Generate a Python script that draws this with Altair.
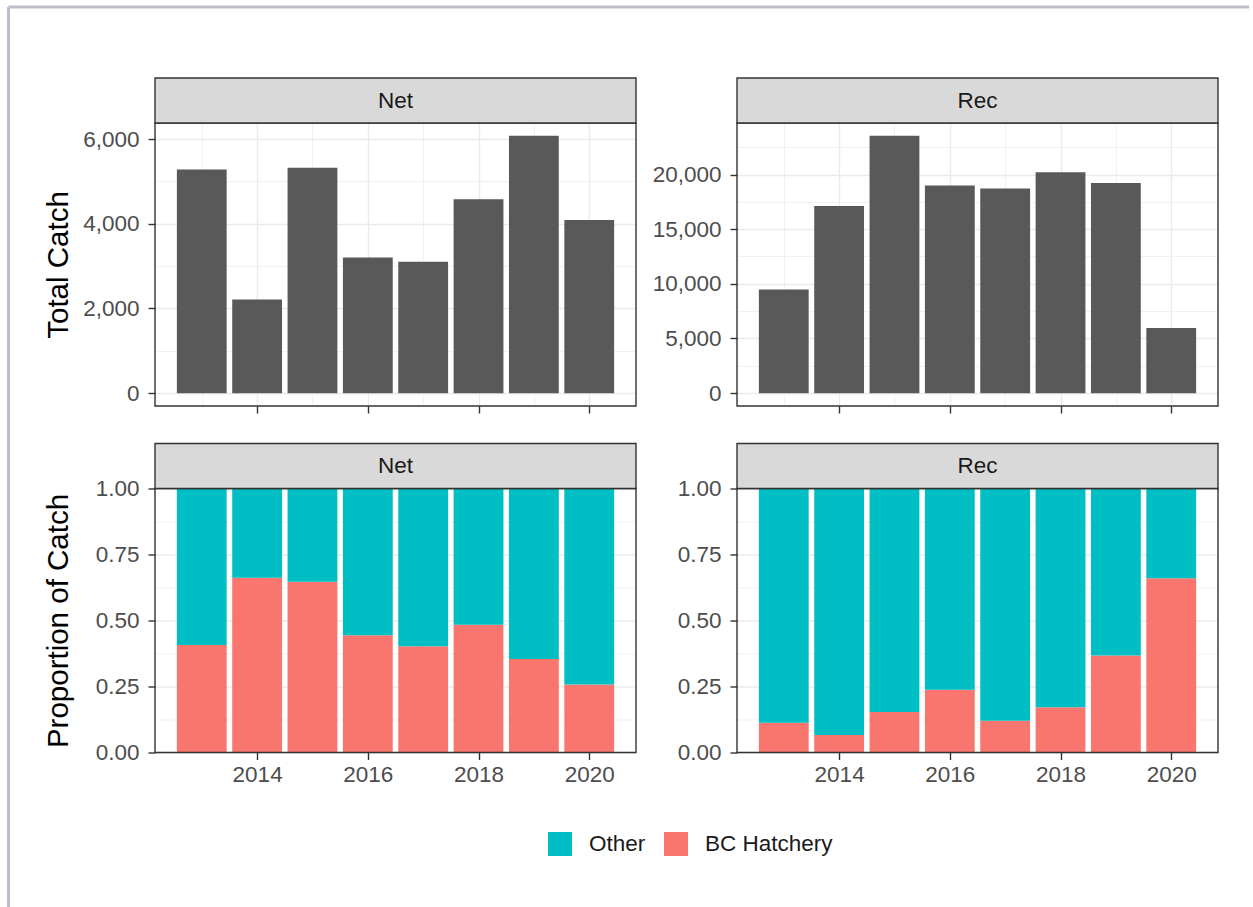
import altair as alt
import pandas as pd

# ---- data -------------------------------------------------------------
years = [2013, 2014, 2015, 2016, 2017, 2018, 2019, 2020]
fisheries = ["Net", "Rec"]
net_total = [5280, 2210, 5320, 3205, 3100, 4580, 6076, 4090]
rec_total = [9470, 17125, 23535, 18990, 18720, 20210, 19230, 5950]
# share of each year's catch that is BC Hatchery fish
net_hatchery = [0.407, 0.662, 0.647, 0.444, 0.402, 0.484, 0.354, 0.258]
rec_hatchery = [0.113, 0.066, 0.153, 0.238, 0.120, 0.171, 0.367, 0.660]
groups = ["Other", "BC Hatchery"]
group_colors = ["#00BFC4", "#F8766D"]

year_ticks = [2014, 2016, 2018, 2020]
net_ticks = [0, 2000, 4000, 6000]
rec_ticks = [0, 5000, 10000, 15000, 20000]
prop_ticks = [0.0, 0.25, 0.5, 0.75, 1.0]

# ---- layout / style ---------------------------------------------------
FONT = "Liberation Sans"
W = 481
H_TOP = 283
H_BOT = 264
STRIP = 45
BAR = 0.9
LINE = "#333333"
GRID = "#EBEBEB"

x_lo = min(years) - BAR / 2
x_hi = max(years) + BAR / 2
x_pad = 0.05 * (x_hi - x_lo)
x_domain = [x_lo - x_pad, x_hi + x_pad]

totals = pd.DataFrame({
    "year": years * 2,
    "fishery": ["Net"] * len(years) + ["Rec"] * len(years),
    "total": net_total + rec_total,
})

rows = []
for fishery, shares in zip(fisheries, [net_hatchery, rec_hatchery]):
    for yr, p in zip(years, shares):
        rows.append({"year": yr, "fishery": fishery, "group": "BC Hatchery", "lo": 0.0, "hi": p})
        rows.append({"year": yr, "fishery": fishery, "group": "Other", "lo": p, "hi": 1.0})
props = pd.DataFrame(rows)


def with_minor(majors, domain):
    """Major breaks plus the half-way minor breaks that fall inside the domain."""
    step = majors[1] - majors[0]
    vals = []
    v = majors[0] - step / 2
    while v <= domain[1]:
        if v >= domain[0]:
            vals.append(v)
        v += step / 2
    return vals


def cond(test, a, b):
    return {"condition": {"test": test, "value": a}, "value": b}


def make_axis(majors, domain, fmt, labels=True, title=None, title_y=None, pad=9):
    test = "indexof(%s, datum.value) >= 0" % str(list(majors))
    kw = dict(
        values=with_minor(majors, domain),
        grid=True,
        gridColor=GRID,
        gridWidth=cond(test, 1.4, 0.7),
        tickOpacity=cond(test, 1, 0),
        tickColor=LINE,
        tickWidth=1.4,
        tickSize=7,
        domain=False,
        labels=labels,
        labelExpr="%s ? %s : ''" % (test, fmt),
        labelFont=FONT,
        labelFontSize=22.5,
        labelColor="#4D4D4D",
        labelPadding=pad,
        labelFlush=False,
        labelOverlap=False,
    )
    if title:
        kw.update(title=title, titleFont=FONT, titleFontSize=29.5, titleFontWeight="normal",
                  titleColor="#000000", titleX=-88, titleY=title_y, titleAlign="center",
                  titleBaseline="alphabetic", titleAngle=270)
    else:
        kw.update(title=None)
    return alt.Axis(**kw)


x_scale = alt.Scale(domain=x_domain, nice=False, zero=False)
one = pd.DataFrame({"k": [0]})


def decorations(fishery, height):
    border = alt.Chart(one).mark_rect(fillOpacity=0, stroke=LINE, strokeWidth=1.4).encode(
        x=alt.value(0), x2=alt.value(W), y=alt.value(0), y2=alt.value(height))
    strip = alt.Chart(one).mark_rect(fill="#D9D9D9", stroke=LINE, strokeWidth=1.4).encode(
        x=alt.value(0), x2=alt.value(W), y=alt.value(-STRIP), y2=alt.value(0))
    label = alt.Chart(pd.DataFrame({"label": [fishery]})).mark_text(
        font=FONT, fontSize=22.5, color="#1A1A1A", baseline="middle", align="center"
    ).encode(x=alt.value(W / 2), y=alt.value(-STRIP / 2), text="label:N")
    return [border, strip, label]


def total_panel(fishery, values, majors, title=None):
    ymax = max(values)
    ydom = [-0.05 * ymax, 1.05 * ymax]
    bars = alt.Chart(totals).transform_filter(
        alt.datum.fishery == fishery
    ).transform_calculate(
        x0="datum.year - %s" % (BAR / 2), x1="datum.year + %s" % (BAR / 2), base="0"
    ).mark_rect(color="#595959").encode(
        x=alt.X("x0:Q", scale=x_scale,
                axis=make_axis(year_ticks, x_domain, "'' + datum.value", labels=False)),
        x2="x1:Q",
        y=alt.Y("total:Q", scale=alt.Scale(domain=ydom, nice=False, zero=False),
                axis=make_axis(majors, ydom, "format(datum.value, ',')", title=title,
                               title_y=H_TOP / 2)),
        y2="base:Q",
    )
    return [bars] + decorations(fishery, H_TOP)


def prop_panel(fishery, title=None):
    ydom = [0, 1]
    bars = alt.Chart(props).transform_filter(
        alt.datum.fishery == fishery
    ).transform_calculate(
        x0="datum.year - %s" % (BAR / 2), x1="datum.year + %s" % (BAR / 2)
    ).mark_rect().encode(
        x=alt.X("x0:Q", scale=x_scale,
                axis=make_axis(year_ticks, x_domain, "'' + datum.value", pad=4)),
        x2="x1:Q",
        y=alt.Y("lo:Q", scale=alt.Scale(domain=ydom, nice=False, zero=False),
                axis=make_axis(prop_ticks, ydom, "format(datum.value, '.2f')", title=title,
                               title_y=H_BOT / 2)),
        y2="hi:Q",
        color=alt.Color("group:N", scale=alt.Scale(domain=groups, range=group_colors),
                        legend=alt.Legend(title=None, orient="none", direction="horizontal",
                                          legendX=393, legendY=709,
                                          symbolType="square", symbolSize=576,
                                          symbolStrokeWidth=0, labelFont=FONT,
                                          labelFontSize=22.5, labelColor="#1A1A1A",
                                          labelOffset=17, columnPadding=18)),
    )
    return [bars] + decorations(fishery, H_BOT)


# light page frame along the top and left edges
frame = [
    alt.Chart(one).mark_rule(color="#BDBDC9", strokeWidth=3).encode(
        x=alt.value(-146.5), x2=alt.value(1094), y=alt.value(-116)),
    alt.Chart(one).mark_rule(color="#BDBDC9", strokeWidth=3).encode(
        x=alt.value(-146.5), y=alt.value(-116), y2=alt.value(784)),
]

top_net = alt.layer(*total_panel("Net", net_total, net_ticks, title="Total Catch"), *frame).properties(
    width=W, height=H_TOP)
top_rec = alt.layer(*total_panel("Rec", rec_total, rec_ticks)).properties(width=W, height=H_TOP)
bot_net = alt.layer(*prop_panel("Net", title="Proportion of Catch")).properties(width=W, height=H_BOT)
bot_rec = alt.layer(*prop_panel("Rec")).properties(width=W, height=H_BOT)

chart = alt.concat(
    top_net, top_rec, bot_net, bot_rec,
    columns=2,
    spacing={"row": 82.5, "column": 101},
    bounds="flush",
).properties(
    padding={"left": 7, "top": 5, "right": 0, "bottom": 0},
    background="white",
).configure_view(stroke=None)

chart.save("out.html", embed_options={"renderer": "svg", "actions": False})
